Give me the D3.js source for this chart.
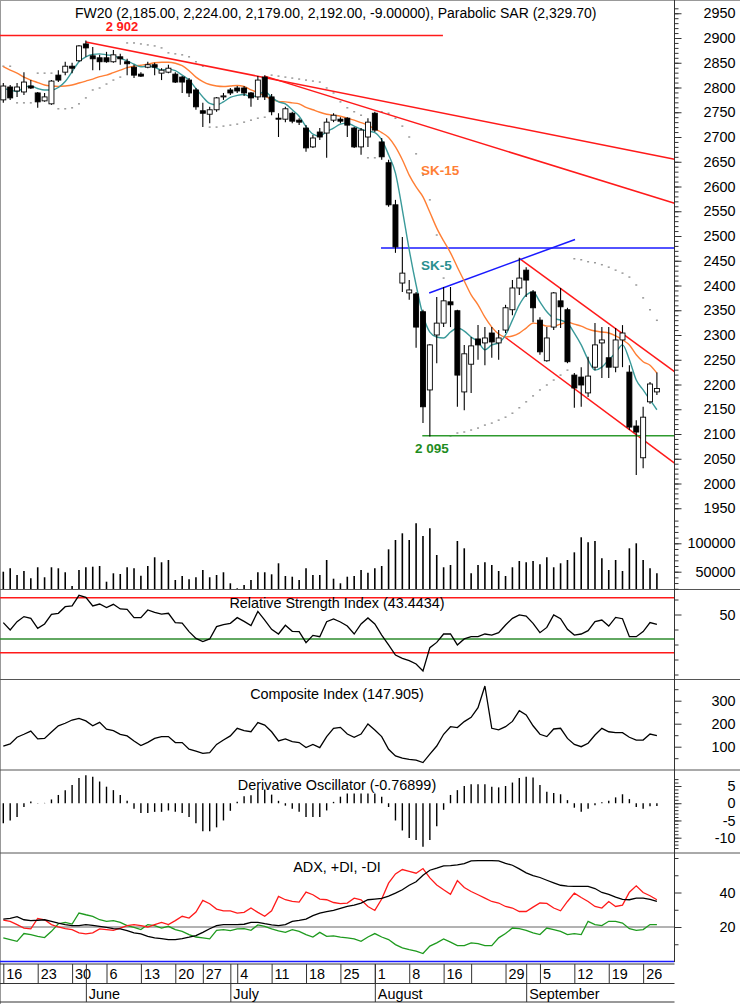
<!DOCTYPE html>
<html><head><meta charset="utf-8">
<script src="https://cdn.jsdelivr.net/npm/d3@7"></script>
<style>body{margin:0;background:#fff}svg{display:block;font-family:"Liberation Sans",Arial,sans-serif}</style>
</head><body><svg id="c" width="740" height="1004"></svg>
<script>
// ---------- DATA ----------
const open=[2775,2801,2793,2791,2803,2789,2773,2767,2825,2831,2843,2854,2888,2864,2860,2860,2852,2862,2852,2841,2827,2841,2846,2829,2831,2827,2821,2815,2795,2753,2746,2755,2781,2795,2799,2799,2789,2781,2821,2781,2738,2736,2748,2734,2718,2680,2710,2708,2734,2736,2738,2718,2680,2700,2748,2690,2648,2563,2405,2385,2383,2347,2189,2300,2324,2367,2349,2185,2241,2292,2284,2304,2284,2310,2351,2395,2431,2387,2330,2248,2316,2369,2351,2219,2215,2183,2235,2284,2254,2235,2290,2225,2116,2052,2165,2185];
const high=[2809,2805,2809,2831,2815,2791,2789,2815,2835,2852,2850,2886,2895,2882,2866,2872,2876,2868,2858,2846,2831,2852,2850,2839,2846,2831,2823,2819,2799,2769,2761,2781,2789,2799,2803,2803,2791,2823,2825,2787,2748,2761,2751,2738,2724,2704,2718,2738,2748,2740,2740,2720,2718,2738,2751,2698,2654,2573,2498,2411,2387,2351,2282,2377,2397,2397,2351,2280,2296,2320,2316,2316,2310,2361,2411,2456,2437,2391,2336,2316,2387,2395,2355,2223,2235,2256,2324,2316,2316,2314,2320,2239,2128,2155,2205,2224];
const low=[2769,2775,2781,2785,2797,2759,2771,2765,2811,2825,2829,2852,2862,2835,2835,2850,2850,2846,2825,2819,2821,2839,2825,2815,2829,2809,2789,2781,2755,2720,2728,2751,2775,2785,2789,2783,2761,2775,2775,2744,2700,2730,2728,2724,2670,2678,2694,2658,2730,2728,2700,2678,2664,2680,2710,2654,2559,2466,2387,2371,2274,2122,2095,2243,2316,2316,2155,2148,2183,2250,2239,2254,2250,2304,2340,2381,2377,2326,2260,2246,2310,2314,2243,2153,2155,2175,2229,2213,2213,2225,2235,2108,2017,2031,2161,2179];
const close=[2803,2779,2801,2811,2799,2771,2781,2813,2815,2843,2839,2884,2880,2858,2852,2852,2866,2858,2848,2825,2823,2846,2841,2835,2839,2811,2811,2789,2761,2748,2755,2779,2783,2789,2793,2789,2779,2815,2781,2751,2736,2757,2732,2730,2678,2698,2700,2730,2744,2732,2724,2680,2714,2730,2714,2660,2563,2478,2425,2391,2316,2155,2280,2324,2369,2361,2219,2262,2278,2280,2294,2286,2294,2355,2395,2415,2411,2355,2266,2294,2385,2357,2246,2193,2199,2217,2280,2290,2235,2290,2304,2114,2104,2134,2201,2192];
const volume=[50000,56000,44200,51200,38400,57800,40200,57800,56000,49000,24800,53000,57800,58800,60000,32400,47200,46000,57800,56000,43000,60000,75400,66600,70600,35400,42400,36600,40200,53000,40200,44200,49000,29600,20800,26600,35400,49000,49000,45400,64800,42400,41200,35400,56000,44200,44200,70600,37700,29600,41200,42400,53000,48300,56000,60000,89400,105800,117600,105800,135200,112900,126400,79400,57800,61800,104100,91200,47200,61800,66600,61800,51200,42400,57800,68800,66600,68800,63000,75400,57800,64800,70600,84100,110600,101800,104100,73600,53000,70600,51200,91200,100000,70600,56000,47200];
const sma5=[2798,2795,2792,2800,2803,2798,2795,2795,2800,2812,2832,2852,2862,2867,2868,2866,2864,2859,2854,2847,2842,2843,2841,2835,2837,2834,2825,2815,2798,2781,2768,2765,2771,2780,2784,2786,2781,2785,2792,2780,2771,2767,2755,2742,2721,2706,2702,2711,2718,2726,2728,2722,2716,2712,2709,2694,2664,2627,2553,2472,2401,2340,2306,2296,2294,2306,2314,2308,2296,2286,2270,2280,2284,2300,2330,2361,2381,2387,2367,2347,2334,2330,2324,2304,2280,2250,2229,2235,2250,2264,2280,2250,2209,2189,2169,2149];
const sma15=[2842,2835,2829,2821,2815,2810,2805,2803,2802,2803,2805,2809,2813,2817,2822,2825,2830,2835,2840,2843,2845,2847,2850,2851,2851,2849,2844,2834,2821,2812,2806,2803,2802,2803,2804,2802,2795,2790,2783,2776,2772,2771,2769,2767,2760,2755,2750,2746,2744,2742,2738,2734,2729,2724,2716,2709,2699,2680,2654,2623,2599,2579,2548,2516,2490,2466,2437,2409,2381,2361,2336,2316,2302,2296,2298,2304,2314,2324,2322,2318,2318,2322,2326,2322,2318,2312,2308,2306,2304,2298,2290,2280,2260,2246,2239,2223];
const sar=[2843,2843,2769,2769,2769,2829,2829,2829,2757,2757,2759,2767,2779,2795,2799,2807,2815,2821,2890,2890,2888,2886,2884,2880,2870,2868,2866,2862,2852,2843,2720,2720,2722,2724,2726,2730,2734,2738,2740,2825,2823,2821,2819,2817,2815,2813,2811,2799,2789,2771,2759,2751,2744,2658,2658,2751,2748,2738,2722,2700,2666,2623,2573,2502,2415,2096,2102,2104,2108,2112,2118,2122,2128,2134,2142,2153,2165,2177,2189,2199,2209,2219,2229,2454,2452,2448,2446,2442,2437,2431,2425,2417,2401,2375,2351,2329.7];
const rsi=[44.6,39.7,45.2,48.6,47.4,40.8,43.7,50.1,50.8,55.2,55.7,62.8,61.4,55.7,57.0,54.6,56.8,53.7,53.4,47.9,47.9,53.0,51.4,50.3,50.8,44.6,44.3,38.6,34.1,31.9,33.7,41.9,43.2,44.1,47.9,45.4,42.6,52.1,46.3,40.1,37.0,42.8,38.8,38.6,31.2,36.1,35.2,45.2,47.0,45.0,42.3,37.0,43.7,47.7,43.7,36.3,29.7,23.0,20.8,19.2,17.0,12.3,27.9,31.4,37.0,37.0,29.7,33.7,35.2,35.2,37.0,36.3,37.9,43.0,47.4,49.7,49.0,44.1,37.9,41.4,49.7,47.2,40.1,36.3,37.0,39.2,45.2,46.3,42.3,48.1,47.2,35.2,35.2,38.6,44.6,43.4434];
const rsiLevels=[61.2,33.7,24.5];
const composite=[103,112,141,154,168,134,136,164,191,202,216,223,212,191,206,176,170,154,147,125,105,119,136,144,144,118,118,89,81,71,74,110,129,147,180,170,165,205,194,165,125,134,122,118,96,110,96,144,180,184,155,141,155,199,173,144,89,60,50,45,42,31,68,103,154,187,183,209,228,270,364,180,173,187,210,257,238,191,154,144,177,180,136,110,100,115,151,180,165,161,161,141,129,129,155,147.905];
const derivOsc=[-5.8,-5.0,-4.0,-1.1,0.5,0.1,0.1,1.1,2.4,3.8,5.3,7.3,8.1,7.7,6.3,4.8,3.8,2.4,0.7,-1.6,-2.8,-2.8,-2.5,-2.5,-2.1,-2.5,-2.8,-4.0,-5.8,-8.1,-8.1,-7.0,-5.0,-2.2,0.4,2.0,2.3,4.0,4.0,2.5,0.7,-0.7,-1.6,-2.5,-4.0,-4.0,-4.0,-2.1,0.4,1.9,2.8,2.8,2.8,2.8,2.8,1.9,-1.1,-5.0,-7.9,-10.1,-10.7,-12.6,-10.7,-6.7,-1.9,2.4,3.8,5.0,5.5,5.5,5.5,4.8,4.6,5.0,6.0,7.3,7.7,7.5,5.3,3.3,3.0,2.6,0.9,-1.3,-2.5,-1.6,-0.6,0.3,0.7,1.7,2.6,1.2,-1.1,-1.6,-0.9,-0.76899];
const adx=[24.6,25.0,26.0,24.2,23.7,23.9,24.2,23.3,22.3,21.4,20.8,20.8,21.4,21.0,20.4,19.8,19.0,18.9,17.9,16.6,16.0,14.6,13.7,13.3,12.7,12.7,13.3,14.1,15.0,16.9,19.0,20.8,21.4,21.4,21.4,21.6,22.7,22.7,21.9,21.2,20.8,21.4,23.3,23.9,24.6,26.6,28.1,28.9,29.6,30.8,31.9,32.7,33.9,35.8,36.2,36.6,37.9,39.6,41.6,44.2,46.2,50.0,52.9,54.1,55.4,55.6,56.0,56.7,58.3,58.5,58.5,58.5,58.3,56.9,55.8,53.7,51.4,49.8,48.7,47.1,45.6,44.2,43.7,43.5,43.5,43.5,42.3,40.0,38.9,37.3,36.0,35.8,36.7,36.7,36.0,34.8];
const diRed=[24.0,23.3,21.4,19.4,18.9,25.0,24.2,21.4,20.0,19.0,18.5,16.6,16.0,16.6,18.9,18.5,18.1,19.4,20.8,21.4,20.8,20.0,21.4,22.7,21.4,23.7,26.2,25.2,28.7,35.4,33.5,30.4,29.4,29.4,28.1,28.5,31.0,28.5,26.2,29.4,37.7,35.8,34.8,34.4,40.2,38.7,36.2,35.8,34.2,33.5,33.9,36.7,35.8,31.9,29.6,36.2,45.4,50.8,53.3,52.3,51.2,53.9,48.5,44.4,41.6,39.0,46.9,42.9,40.6,38.7,36.7,34.8,33.9,31.9,31.0,29.0,29.0,31.5,33.9,33.7,31.0,29.4,34.8,39.6,37.1,34.8,31.9,31.0,34.8,31.9,32.7,40.2,43.9,40.0,38.1,35.8];
const diGreen=[13.7,12.7,11.7,16.2,15.6,14.6,13.9,17.5,21.9,22.7,21.7,28.1,27.1,26.2,24.2,23.3,23.7,22.7,20.8,19.8,18.5,21.4,20.8,19.4,20.4,18.5,17.5,15.6,14.2,13.7,13.1,18.1,18.5,17.9,18.9,19.0,18.1,21.2,20.4,18.9,17.7,16.9,18.5,17.5,15.6,14.2,16.9,14.6,14.8,14.1,13.7,13.1,11.7,14.2,16.2,14.2,12.7,9.8,7.9,6.9,6.0,4.6,8.9,10.8,13.1,11.2,9.2,9.2,10.8,10.4,9.2,9.2,13.7,16.2,19.4,19.0,18.1,16.6,15.6,19.4,18.5,17.5,15.6,16.2,15.6,23.3,21.4,20.8,23.3,23.3,22.3,19.0,18.1,18.5,21.4,21.4];
const tickIdx=[0,5,10,15,20,25,29,34,39,44,49,54,59,64,68,73,78,83,88,93];
const tickLbl=["16","23","30","6","13","20","27","4","11","18","25","1","8","16","","29","5","12","19","26"];
const monthIdx=[12,33,54,76];
const monthLbl=["June","July","August","September"];
// trend lines: [i1,v1,i2,v2]
const redLines=[[-0.5,2905,63.9,2905],[12,2892,97.56,2655],[38,2823,97.56,2566],[75,2455,97.56,2226],[72.7,2298,97.56,2041]];
const blueLines=[[54.9,2476,97.56,2476],[61.9,2385,83.1,2493]];
const greenLine=[60.9,2096.5,97.56,2096.5];

// ---------- SETUP ----------
const svg=d3.select("#c");
const R=674.5;
const x=d3.scaleLinear().domain([0,95]).range([3.3,656.9]);
const yP=d3.scaleLinear().domain([2100,2950]).range([434,13.25]);
const yV=d3.scaleLinear().domain([0,100000]).range([600.1,543.3]);
const yR=d3.scaleLinear().domain([0,100]).range([689.5,539.5]);
const yC=d3.scaleLinear().domain([0,300]).range([769.7,700.7]);
const yD=d3.scaleLinear().domain([-10,5]).range([837.7,786]);
const yA=d3.scaleLinear().domain([0,40]).range([961.5,892.5]);
const idx=d3.range(close.length);
const FS="14.4px";
const fmt=d=>String(d);

// frame lines
svg.append("line").attr("x1",0.5).attr("x2",0.5).attr("y1",0).attr("y2",1004).attr("stroke","#999");
svg.append("line").attr("x1",0).attr("x2",740).attr("y1",0.5).attr("y2",0.5).attr("stroke","#999");
[589.5,679.5,770,853].forEach(y=>svg.append("line").attr("x1",0).attr("x2",740).attr("y1",y).attr("y2",y).attr("stroke","#555"));

// ---------- PRICE PANEL ----------
const gP=svg.append("g");
gP.selectAll("rect.sar").data(idx).join("rect").attr("x",i=>x(i)-1).attr("y",i=>yP(sar[i])-0.75).attr("width",2).attr("height",1.5).attr("fill","#9a9a9a");
function tl(d,col){gP.append("line").attr("x1",x(d[0])).attr("y1",yP(d[1])).attr("x2",x(d[2])).attr("y2",yP(d[3])).attr("stroke",col).attr("stroke-width",1.5);}
redLines.forEach(d=>tl(d,"#ff1a1a"));
blueLines.forEach(d=>tl(d,"#1a1aff"));
tl(greenLine,"#2e9a2e");
const lineP=arr=>d3.line().x(i=>x(i)).y(i=>yP(arr[i])).curve(d3.curveMonotoneX)(idx);
gP.append("path").attr("d",lineP(sma15)).attr("fill","none").attr("stroke","#ff7f35").attr("stroke-width",1.4);
gP.append("path").attr("d",lineP(sma5)).attr("fill","none").attr("stroke","#3a9a9a").attr("stroke-width",1.4);
const cg=gP.selectAll("g.c").data(idx).join("g");
cg.append("line").attr("x1",i=>x(i)).attr("x2",i=>x(i)).attr("y1",i=>yP(high[i])).attr("y2",i=>yP(low[i])).attr("stroke","#000").attr("stroke-width",1.1);
cg.append("rect").attr("x",i=>x(i)-2.5).attr("width",5)
  .attr("y",i=>yP(Math.max(open[i],close[i])))
  .attr("height",i=>Math.max(1,Math.abs(yP(open[i])-yP(close[i]))))
  .attr("fill",i=>close[i]>=open[i]?"#fff":"#000").attr("stroke","#000").attr("stroke-width",0.9);
gP.append("text").attr("x",75).attr("y",18).attr("font-size","14px").text("FW20 (2,185.00, 2,224.00, 2,179.00, 2,192.00, -9.00000), Parabolic SAR (2,329.70)");
gP.append("text").attr("x",122).attr("y",31).attr("text-anchor","middle").attr("font-size","13px").attr("font-weight","bold").attr("fill","#ff1a1a").text("2  902");
gP.append("text").attr("x",432).attr("y",453).attr("text-anchor","middle").attr("font-size","13.5px").attr("font-weight","bold").attr("fill","#1e8c1e").text("2  095");
gP.append("text").attr("x",421).attr("y",175).attr("font-size","13.5px").attr("font-weight","bold").attr("fill","#ff7f35").text("SK-15");
gP.append("text").attr("x",421).attr("y",270).attr("font-size","13.5px").attr("font-weight","bold").attr("fill","#2a8f8f").text("SK-5");
svg.append("g").selectAll("line").data(idx).join("line").attr("x1",i=>x(i)).attr("x2",i=>x(i)).attr("y1",589).attr("y2",i=>yV(volume[i])).attr("stroke","#000").attr("stroke-width",1.6);

// ---------- RSI ----------
const lvlCol=["#ff1a1a","#2e8b2e","#ff1a1a"];
rsiLevels.forEach((v,k)=>svg.append("line").attr("x1",0).attr("x2",R).attr("y1",yR(v)).attr("y2",yR(v)).attr("stroke",lvlCol[k]).attr("stroke-width",1.4));
svg.append("path").attr("d",d3.line().x(i=>x(i)).y(i=>yR(rsi[i]))(idx)).attr("fill","none").attr("stroke","#000").attr("stroke-width",1.3);
svg.append("text").attr("x",337).attr("y",608).attr("text-anchor","middle").attr("font-size",FS).text("Relative Strength Index (43.4434)");

// ---------- COMPOSITE ----------
svg.append("path").attr("d",d3.line().x(i=>x(i)).y(i=>yC(composite[i]))(idx)).attr("fill","none").attr("stroke","#000").attr("stroke-width",1.3);
svg.append("text").attr("x",337).attr("y",699).attr("text-anchor","middle").attr("font-size",FS).text("Composite Index (147.905)");

// ---------- DERIVATIVE OSC ----------
svg.append("g").selectAll("line").data(idx).join("line").attr("x1",i=>x(i)).attr("x2",i=>x(i)).attr("y1",yD(0)).attr("y2",i=>yD(derivOsc[i])).attr("stroke","#000").attr("stroke-width",1.4);
svg.append("text").attr("x",337).attr("y",790).attr("text-anchor","middle").attr("font-size",FS).text("Derivative Oscillator (-0.76899)");

// ---------- ADX ----------
svg.append("line").attr("x1",0).attr("x2",R).attr("y1",yA(20)).attr("y2",yA(20)).attr("stroke","#666");
svg.append("line").attr("x1",0).attr("x2",R).attr("y1",yA(0)).attr("y2",yA(0)).attr("stroke","#1a1aff").attr("stroke-width",1.4);
[[diGreen,"#1e9a1e"],[diRed,"#ff1a1a"],[adx,"#000"]].forEach(([a,c])=>svg.append("path").attr("d",d3.line().x(i=>x(i)).y(i=>yA(a[i]))(idx)).attr("fill","none").attr("stroke",c).attr("stroke-width",1.3));
svg.append("text").attr("x",337).attr("y",872).attr("text-anchor","middle").attr("font-size",FS).text("ADX, +DI, -DI");

// ---------- RIGHT AXES ----------
svg.append("line").attr("x1",R).attr("x2",R).attr("y1",0).attr("y2",962).attr("stroke","#333");
function rAxis(scale,minor,major){
  const g1=svg.append("g").attr("transform",`translate(${R},0)`).call(d3.axisRight(scale).tickValues(minor).tickSize(4).tickFormat(""));
  g1.select(".domain").remove();
  const g2=svg.append("g").attr("transform",`translate(${R},0)`).call(d3.axisRight(scale).tickValues(major).tickSize(7).tickFormat(fmt));
  g2.select(".domain").remove();
  g2.selectAll("text").attr("x",61).attr("text-anchor","end").attr("font-size",FS).attr("font-family","'Liberation Sans',Arial,sans-serif").attr("fill","#000");
  [g1,g2].forEach(g=>g.selectAll("line").attr("stroke","#333"));
}
rAxis(yP,d3.range(1950,2961,10),d3.range(1950,2951,50));
rAxis(yV,d3.range(20000,140001,10000),[50000,100000]);
rAxis(yR,[10,20,30,40,60],[50]);
rAxis(yC,[50,150,250,350],[100,200,300]);
rAxis(yD,d3.range(-13,8,1),[-10,-5,0,5]);
rAxis(yA,[10,30,50,60],[20,40]);

// ---------- DATE AXIS ----------
[964,983.5,1002].forEach(y=>svg.append("line").attr("x1",0).attr("x2",R).attr("y1",y).attr("y2",y).attr("stroke","#333"));
const gx=svg.append("g").attr("transform","translate(0,964)").call(d3.axisBottom(x).tickValues(tickIdx).tickSize(19.5).tickFormat((d,k)=>tickLbl[k]));
gx.select(".domain").remove();
gx.selectAll("line").attr("stroke","#333");
gx.selectAll("text").attr("x",2.5).attr("y",15).attr("dy",0).attr("text-anchor","start").attr("font-size",FS).attr("font-family","'Liberation Sans',Arial,sans-serif");
const gm=svg.append("g").attr("transform","translate(0,964)").call(d3.axisBottom(x).tickValues(monthIdx).tickSize(38).tickFormat((d,k)=>monthLbl[k]));
gm.select(".domain").remove();
gm.selectAll("line").attr("stroke","#333");
gm.selectAll("text").attr("x",2.5).attr("y",34.5).attr("dy",0).attr("text-anchor","start").attr("font-size",FS).attr("font-family","'Liberation Sans',Arial,sans-serif");
</script></body></html>
